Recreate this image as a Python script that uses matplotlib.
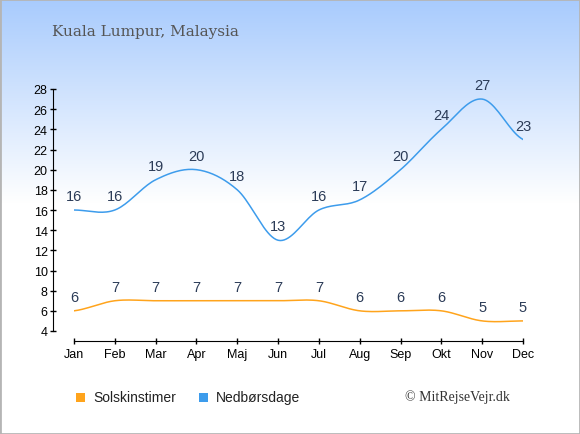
import numpy as np
import matplotlib.pyplot as plt
from matplotlib.patches import Rectangle

# Data
MONTHS = ["Jan", "Feb", "Mar", "Apr", "Maj", "Jun", "Jul", "Aug", "Sep", "Okt", "Nov", "Dec"]
SUN_HOURS = [6, 7, 7, 7, 7, 7, 7, 6, 6, 6, 5, 5]
RAIN_DAYS = [16, 16, 19, 20, 18, 13, 16, 17, 20, 24, 27, 23]

SUN_COLOR = "#ffa41c"
RAIN_COLOR = "#3d9cec"
LABEL_COLOR = "#2b3b57"

W, H = 580, 435


def smooth(y, n=20):
    """Catmull-Rom curve through the points (for drawing only)"""
    y = np.asarray(y, dtype=float)
    p = np.concatenate([[y[0]], y, [y[-1]]])
    xs, ys = [], []
    for i in range(len(y) - 1):
        p0, p1, p2, p3 = p[i], p[i + 1], p[i + 2], p[i + 3]
        t = np.linspace(0, 1, n, endpoint=False)
        v = 0.5 * ((2 * p1) + (-p0 + p2) * t + (2 * p0 - 5 * p1 + 4 * p2 - p3) * t ** 2
                   + (-p0 + 3 * p1 - 3 * p2 + p3) * t ** 3)
        xs.append(i + t)
        ys.append(v)
    xs.append([len(y) - 1])
    ys.append([y[-1]])
    return np.concatenate(xs), np.concatenate(ys)


plt.rcParams['font.family'] = ['Liberation Sans', 'DejaVu Sans']

fig = plt.figure(figsize=(W / 100, H / 100), dpi=100)

# background gradient
bg = fig.add_axes([0, 0, 1, 1], zorder=-10)
rows = np.linspace(0, 1, H)
frac = np.clip(rows / 0.47, 0, 1)
top = np.array([168, 203, 253]) / 255
grad = top[None, :] * (1 - frac[:, None]) + np.ones(3)[None, :] * frac[:, None]
bg.imshow(grad[:, None, :], aspect='auto', extent=[0, 1, 0, 1], origin='upper')
bg.add_patch(Rectangle((0, 0), 1, 1, transform=bg.transAxes, fill=False,
                       edgecolor="#b5b5b5", linewidth=2))
bg.set_axis_off()

ax = fig.add_axes([74 / W, (H - 332) / H, (523 - 74) / W, (332 - 90) / H])
ax.patch.set_alpha(0)

x = np.arange(len(MONTHS))
for vals, col in [(SUN_HOURS, SUN_COLOR), (RAIN_DAYS, RAIN_COLOR)]:
    sx, sy = smooth(vals)
    ax.plot(sx, sy, color=col, linewidth=1.1)
    for xi, v in zip(x, vals):
        ax.annotate(str(v), (xi, v), xytext=(0, 10), textcoords='offset points',
                    ha='center', va='center', fontsize=10.5, color=LABEL_COLOR,
                    annotation_clip=False)

ax.set_xlim(0, 11)
ax.set_ylim(4, 28)
ax.set_yticks(range(4, 29, 2))
ax.set_xticks(x)
ax.set_xticklabels(MONTHS)
for s in ['top', 'right']:
    ax.spines[s].set_visible(False)
ax.spines['left'].set_position(('outward', 15))
ax.spines['bottom'].set_position(('outward', 7))
ax.tick_params(axis='both', labelsize=9, colors='black', length=4, width=1, direction='inout')
ax.tick_params(axis='x', pad=3)
ax.tick_params(axis='y', pad=2)

# title
fig.text(52 / W, 1 - 32 / H, "Kuala Lumpur, Malaysia", family='DejaVu Serif',
         fontsize=11, color="#555555", va='center', ha='left')

# legend
for lx, col, txt in [(76, SUN_COLOR, "Solskinstimer"), (199, RAIN_COLOR, "Nedbørsdage")]:
    fig.patches.append(Rectangle((lx / W, 1 - 403 / H), 9 / W, 9 / H,
                                 transform=fig.transFigure, facecolor=col, edgecolor='none'))
    fig.text((lx + 17) / W, 1 - 398 / H, txt, fontsize=10, color="#222222", va='center', ha='left')

fig.text(510 / W, 1 - 397 / H, "© MitRejseVejr.dk", family=['Liberation Serif', 'DejaVu Serif'],
         fontsize=10, color="#333333", va='center', ha='right')

fig.savefig("out.png", dpi=100)
